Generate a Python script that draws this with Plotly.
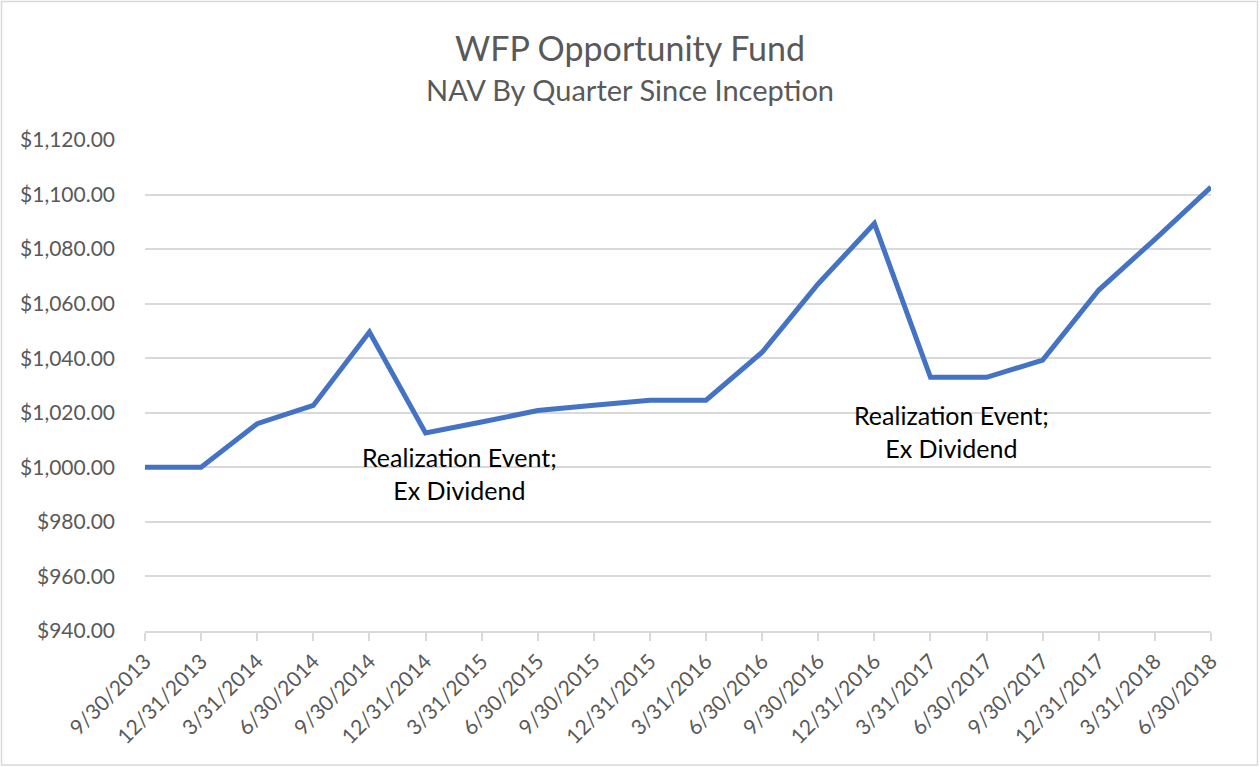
import plotly.graph_objects as go

quarters = ["9/30/2013", "12/31/2013", "3/31/2014", "6/30/2014", "9/30/2014",
            "12/31/2014", "3/31/2015", "6/30/2015", "9/30/2015", "12/31/2015",
            "3/31/2016", "6/30/2016", "9/30/2016", "12/31/2016", "3/31/2017",
            "6/30/2017", "9/30/2017", "12/31/2017", "3/31/2018", "6/30/2018"]
nav = [1000.0, 1000.0, 1016.0, 1022.7, 1049.6,
       1012.6, 1016.6, 1020.8, 1022.8, 1024.6,
       1024.6, 1042.2, 1067.3, 1089.4, 1033.0,
       1033.0, 1039.3, 1065.0, 1083.6, 1102.7]

title_text = "WFP Opportunity Fund"
subtitle_text = "NAV By Quarter Since Inception"
note_text = "Realization Event;<br>Ex Dividend"
note_x = [5.61, 14.38]
note_y = [997.9, 1013.1]

W, H = 1260, 767
L, R, T, B = 145, 49, 140, 136
FONT = "Lato"
GRAY = "#595959"
pw = W - L - R
ph = H - T - B


def py2paper(py):
    return (T + ph - py) / ph


def px2paper(px):
    return (px - L) / pw


fig = go.Figure()
fig.add_trace(go.Scatter(x=quarters, y=nav, mode="lines",
                         line=dict(color="#4472C4", width=5), hoverinfo="x+y"))

for nx, ny in zip(note_x, note_y):
    fig.add_annotation(x=nx, y=ny, xref="x", yref="y", text=note_text,
                       showarrow=False, align="center", xanchor="center", yanchor="middle",
                       font=dict(family=FONT, size=25, color="#000000"))

fig.add_annotation(x=px2paper(630), y=py2paper(47), xref="paper", yref="paper",
                   text=title_text, showarrow=False, xanchor="center", yanchor="middle",
                   font=dict(family=FONT, size=34, color=GRAY))
fig.add_annotation(x=px2paper(630), y=py2paper(89), xref="paper", yref="paper",
                   text=subtitle_text, showarrow=False, xanchor="center", yanchor="middle",
                   font=dict(family=FONT, size=29, color=GRAY))

# chart border (outer frame)
fig.add_shape(type="rect", xref="paper", yref="paper",
              x0=px2paper(1.5), x1=px2paper(W - 2.5),
              y0=py2paper(H - 2), y1=py2paper(1.5),
              line=dict(color="#d9d9d9", width=1.5), fillcolor="rgba(0,0,0,0)",
              layer="below")

fig.update_layout(
    width=W, height=H,
    margin=dict(l=L, r=R, t=T, b=B, autoexpand=False),
    paper_bgcolor="white", plot_bgcolor="white",
    showlegend=False,
    font=dict(family=FONT, color=GRAY),
    xaxis=dict(type="category", range=[0, len(quarters) - 1],
               showgrid=False, showline=True, linecolor="#d9d9d9", linewidth=1.5,
               ticks="outside", ticklen=8, tickcolor="#d9d9d9", tickwidth=1.5,
               tickangle=-45, tickfont=dict(family=FONT, size=21, color=GRAY),
               fixedrange=True),
    yaxis=dict(range=[940, 1120], tick0=940, dtick=20,
               tickprefix="$", tickformat=",.2f",
               showgrid=True, gridcolor="#d9d9d9", gridwidth=1.5,
               zeroline=False, showline=False, ticks="", ticklabelstandoff=29,
               tickfont=dict(family=FONT, size=21, color=GRAY),
               fixedrange=True),
)

fig.write_html("out.html", config={"displayModeBar": False},
               post_script="document.body.style.margin='0px';")
